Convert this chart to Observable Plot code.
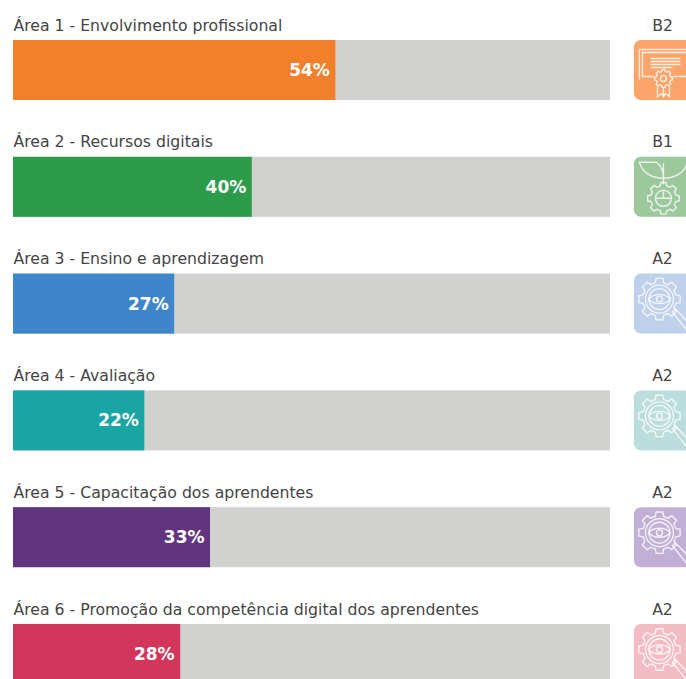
<!DOCTYPE html>
<html lang="pt">
<head>
<meta charset="utf-8">
<script src="https://cdn.jsdelivr.net/npm/d3@7"></script>
<script src="https://cdn.jsdelivr.net/npm/@observablehq/plot@0.6"></script>
<style>
html,body{margin:0;padding:0;background:#fff;width:686px;height:679px;overflow:hidden}
svg{display:block}
</style>
</head>
<body>
<div id="chart"></div>
<script>
const areas = ["Área 1 - Envolvimento profissional","Área 2 - Recursos digitais","Área 3 - Ensino e aprendizagem","Área 4 - Avaliação","Área 5 - Capacitação dos aprendentes","Área 6 - Promoção da competência digital dos aprendentes"];
const percents = [54,40,27,22,33,28];
const levels = ["B2","B1","A2","A2","A2","A2"];
const barColors = ["#F17F2B","#2C9C4B","#3F85C9","#1AA5A5","#60347F","#D2365B"];
const tileColors = ["#FBA56B","#9CC89C","#BFD0EA","#BBDEDC","#C1AFD5","#F3BBC3"];
const iconKinds = ["cert","plant","lens","lens","lens","lens"];

function gear(cx,cy,r,teeth){
  const pts=[];
  for(let i=0;i<teeth;i++){
    const a=i/teeth*2*Math.PI, w=Math.PI/teeth*0.5;
    [[r*0.8,a-w*1.3],[r,a-w*0.8],[r,a+w*0.8],[r*0.8,a+w*1.3]].forEach(([q,t])=>pts.push((cx+q*Math.cos(t)).toFixed(1)+","+(cy+q*Math.sin(t)).toFixed(1)));
  }
  return `<polygon points="${pts.join(" ")}"/>`;
}
const glyphs = {
  cert: `<path d="M5 39V9H60M8 36V12H60"/><path d="M16 18H46M16 21H46M16 24H46M16 27H38M8 36H19M39 36H60"/>${gear(29,38,9,8)}<circle cx="29" cy="38" r="3"/><path d="M23 46V56L27 53L29 56V47M35 46V56L31 53L29 56"/>`,
  plant: `<path d="M29 6V27M29 21C18 21 8 16 5 5H22C26 8 29 14 29 21ZM29 21C40 21 50 16 53 5H60"/>${gear(29,41,16,8)}<circle cx="29" cy="41" r="8"/><path d="M21 41H37M29 33V41"/>`,
  lens: `<g>${gear(25,25,21,8)}<circle cx="25" cy="25" r="14"/><circle cx="25" cy="25" r="10.5"/><path d="M14 25C19 19 31 19 36 25C31 31 19 31 14 25Z"/><circle cx="25" cy="25" r="3"/><path d="M38 38L41 35L58 53L54 58Z"/></g>`
};
const iconSrc = k => "data:image/svg+xml," + encodeURIComponent(
  `<svg xmlns="http://www.w3.org/2000/svg" width="56" height="60" viewBox="0 0 56 60" fill="none" stroke="#fff" stroke-width="1.4" stroke-opacity="0.8">${glyphs[k]}</svg>`);

const rows = areas.map((area,i)=>({area,pct:percents[i],level:levels[i],bar:barColors[i],tile:tileColors[i],src:iconSrc(iconKinds[i])}));
const font = "'DejaVu Sans', sans-serif";

const plot = Plot.plot({
  width:686, height:679,
  marginTop:0, marginRight:0, marginBottom:0, marginLeft:0,
  style:{fontFamily:font, background:"#fff", overflow:"hidden"},
  x:{domain:[0,100], range:[13,610], axis:null},
  y:{type:"band", domain:areas, range:[40,684], paddingInner:0.486, paddingOuter:0, round:false, axis:null},
  marks:[
    Plot.barX(rows,{x1:0,x2:100,y:"area",fill:"#D1D1CF"}),
    Plot.barX(rows,{x1:0,x2:"pct",y:"area",fill:"bar"}),
    Plot.barX(rows,{x1:104,x2:114,y:"area",fill:"tile",rx:7}),
    Plot.image(rows,{x:108.7,y:"area",src:"src",width:56,height:60}),
    Plot.text(rows,{x:"pct",y:"area",text:d=>d.pct+"%",textAnchor:"end",dx:-6,fill:"#fff",fontWeight:700,fontSize:17,fontFamily:font}),
    Plot.text(rows,{x:0,y:"area",text:"area",textAnchor:"start",dy:-45,fill:"#444",fontSize:15.7,fontFamily:font}),
    Plot.text(rows,{x:100,y:"area",text:"level",textAnchor:"middle",dx:52,dy:-45,fill:"#444",fontSize:15.7,fontFamily:font})
  ]
});
document.getElementById("chart").append(plot);
</script>
</body>
</html>
